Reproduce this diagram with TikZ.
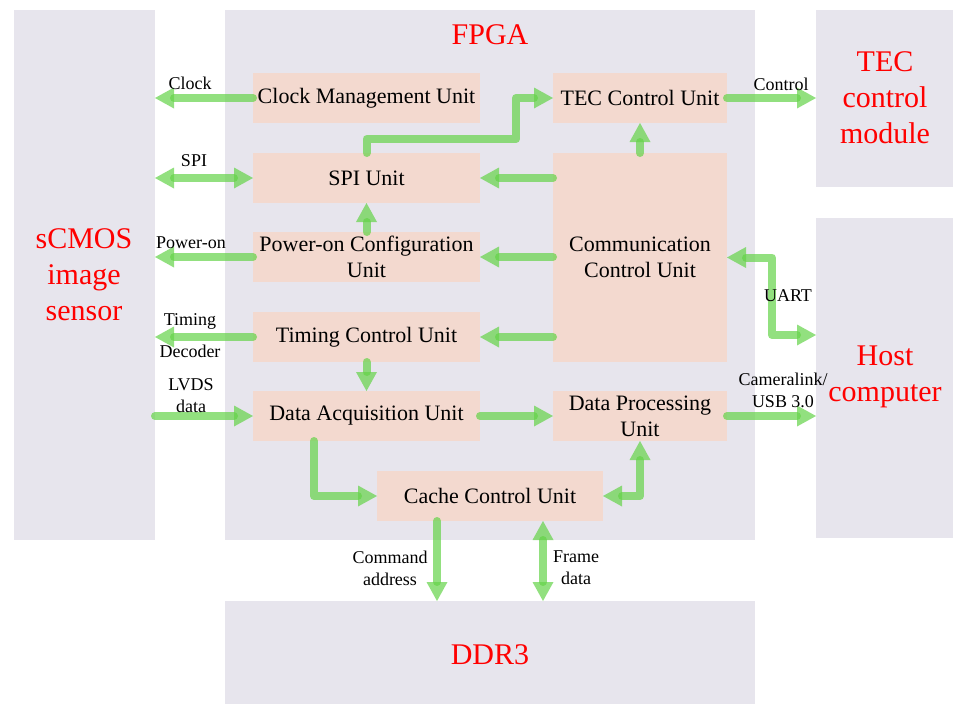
\documentclass[tikz,border=0pt]{standalone}
\usepackage{fontspec}
\setmainfont{Liberation Serif}
\usetikzlibrary{arrows.meta,calc}
\definecolor{bggray}{RGB}{231,229,237}
\definecolor{unitpink}{RGB}{243,217,207}
\definecolor{arrgreen}{RGB}{100,211,72}
\definecolor{titlered}{RGB}{255,0,0}
\tikzset{
  gtip/.tip={Triangle[width=21pt,length=19pt,line width=0pt,fill=arrgreen]},
  bgbox/.style={fill=bggray, draw=none, inner sep=0pt, outer sep=0pt},
  unitbox/.style={fill=unitpink, draw=none, inner sep=0pt, outer sep=0pt, align=center,
    font=\fontsize{22}{26}\selectfont},
  arr/.style={draw=arrgreen, line width=8pt, draw opacity=0.7, fill opacity=0.7,
    line cap=round, line join=round, -gtip},
  darr/.style={arr, gtip-gtip},
  lbl/.style={font=\fontsize{18}{22}\selectfont, align=center, inner sep=0pt},
  redtxt/.style={font=\fontsize{30}{36}\selectfont, text=titlered, align=center, inner sep=0pt}
}
\begin{document}
\begin{tikzpicture}[x=1pt,y=-1pt]
\useasboundingbox (0,0) rectangle (953,704);
% background blocks
\node[bgbox, minimum width=141pt, minimum height=530pt] (sensor) at (84.5,275) {};
\node[bgbox, minimum width=530pt, minimum height=530pt] (fpga) at (490,275) {};
\node[bgbox, minimum width=137pt, minimum height=177pt] (tecm) at (884.5,98.5) {};
\node[bgbox, minimum width=137pt, minimum height=320pt] (host) at (884.5,378) {};
\node[bgbox, minimum width=530pt, minimum height=103pt] (ddr) at (490,652.5) {};
% red titles
\node[redtxt] (fpgat) at (490,35) {FPGA};
\node[redtxt] (tecmt) at (885,98) {TEC\\control\\module};
\node[redtxt] (sensort) at (84,275) {sCMOS\\image\\sensor};
\node[redtxt] (hostt) at (885,377) {Host\\computer};
\node[redtxt] (ddrt) at (490,655) {DDR3};
% units
\node[unitbox, minimum width=227pt, minimum height=50pt] (clk) at (366.5,98) {Clock Management Unit};
\node[unitbox, minimum width=227pt, minimum height=50pt] (spi) at (366.5,178) {SPI Unit};
\node[unitbox, minimum width=227pt, minimum height=50pt] (pwr) at (366.5,257) {Power-on Configuration\\Unit};
\node[unitbox, minimum width=227pt, minimum height=50pt] (tim) at (366.5,337) {Timing Control Unit};
\node[unitbox, minimum width=227pt, minimum height=50pt] (daq) at (366.5,416) {Data Acquisition Unit};
\node[unitbox, minimum width=174pt, minimum height=50pt] (tec) at (640,98) {TEC Control Unit};
\node[unitbox, minimum width=174pt, minimum height=209pt] (comm) at (640,257.5) {Communication\\Control Unit};
\node[unitbox, minimum width=174pt, minimum height=50pt] (dpu) at (640,416) {Data Processing\\Unit};
\node[unitbox, minimum width=226pt, minimum height=50pt] (cache) at (490,496) {Cache Control Unit};
% helper coordinates
\coordinate (bend1) at (516,139);
\coordinate (daqout) at (314,441);
\coordinate (cmdout) at (437,521);
\coordinate (frameout) at (543,521);
\coordinate (uartb) at (772,335);
% connectors
\draw[arr] (clk.west) -- (clk.west -| sensor.east);
\draw[darr] (spi.west) -- (spi.west -| sensor.east);
\draw[arr] (spi.north) |- (bend1) |- (tec.west);
\draw[arr] (comm.north -| tec.south) -- (tec.south);
\draw[arr] (comm.west |- spi.east) -- (spi.east);
\draw[arr] (pwr.north) -- (spi.south);
\draw[arr] (comm.west |- pwr.east) -- (pwr.east);
\draw[arr] (pwr.west) -- (pwr.west -| sensor.east);
\draw[arr] (comm.west |- tim.east) -- (tim.east);
\draw[arr] (tim.west) -- (tim.west -| sensor.east);
\draw[arr] (tim.south) -- (daq.north);
\draw[arr] (daq.west -| sensor.east) -- (daq.west);
\draw[arr] (daq.east) -- (dpu.west);
\draw[arr] (daqout) |- (cache.west);
\draw[darr] (cache.east) -| (dpu.south);
\draw[arr] (cmdout) -- (cmdout |- ddr.north);
\draw[darr] (frameout) -- (frameout |- ddr.north);
\draw[darr] (comm.east) -| (uartb) -- (uartb -| host.west);
\draw[arr] (dpu.east) -- (dpu.east -| host.west);
\draw[arr] (tec.east) -- (tec.east -| tecm.west);
% connector labels
\node[lbl] (lclock) at (190,83) {Clock};
\node[lbl] (lspi) at (194,161) {SPI};
\node[lbl] (lpower) at (191,243) {Power-on};
\node[lbl] (ltiming) at (190,321) {Timing};
\node[lbl] (ldecoder) at (190,351) {Decoder};
\node[lbl] (llvds) at (191,396) {LVDS\\data};
\node[lbl] (lcontrol) at (781,84) {Control};
\node[lbl] (luart) at (788,296) {UART};
\node[lbl] (lcam) at (783,390) {Cameralink/\\USB 3.0};
\node[lbl] (lcmd) at (390,568) {Command\\address};
\node[lbl] (lframe) at (576,568) {Frame\\data};
\end{tikzpicture}
\end{document}
